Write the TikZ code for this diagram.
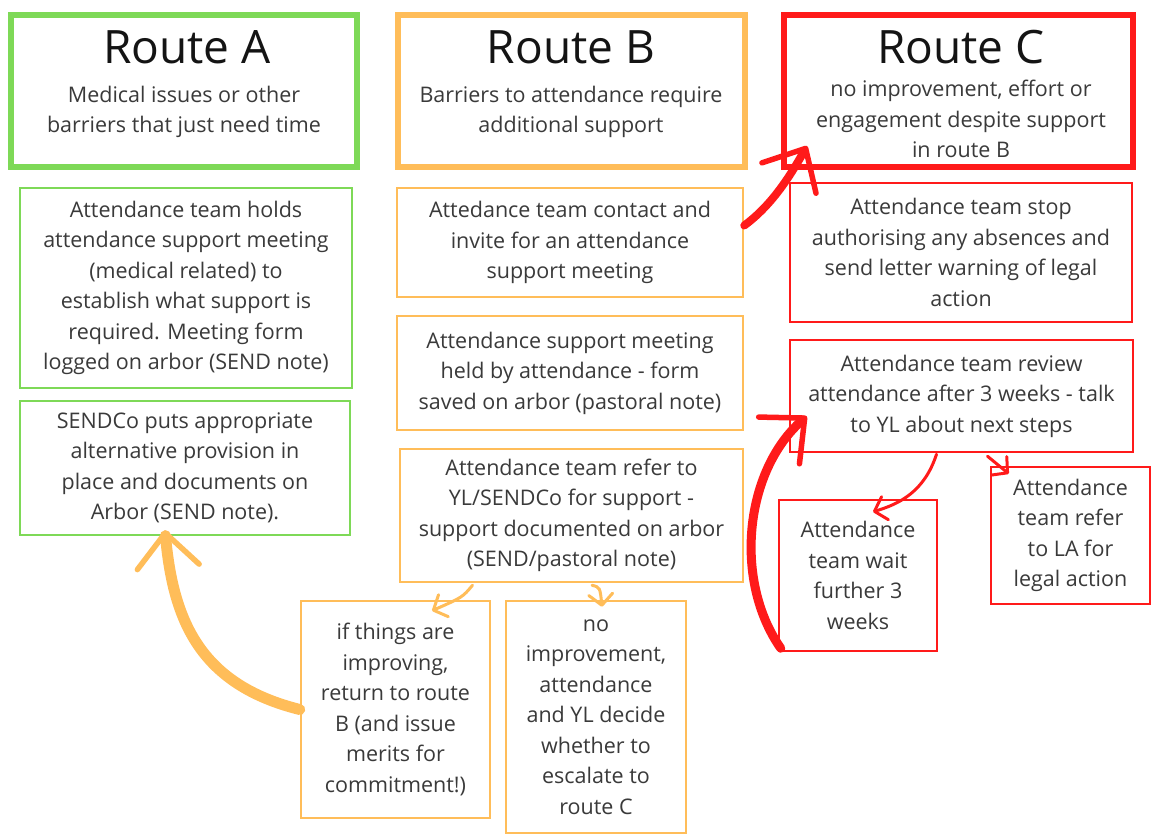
\documentclass[tikz,border=0pt]{standalone}
\usepackage{fontspec}
\setmainfont{Open Sans}
\usetikzlibrary{arrows.meta,calc}
\definecolor{gA}{HTML}{7ED957}
\definecolor{oB}{HTML}{FFBD59}
\definecolor{rC}{HTML}{FF1A1A}
\definecolor{txt}{HTML}{3A3A3A}
\begin{document}
\begin{tikzpicture}[x=1pt,y=-1pt,
  box/.style={draw, line width=2.5pt, align=center, inner sep=0pt, text=txt,
    font=\fontsize{21.5pt}{30.5pt}\selectfont},
  hbox/.style={draw, line width=6pt, inner sep=0pt},
  title/.style={font=\fontsize{46pt}{56pt}\selectfont, text=black!92, inner sep=0pt},
  sub/.style={align=center, text=txt, inner sep=0pt, font=\fontsize{21.5pt}{30.5pt}\selectfont},
  thick arrow/.style={line width=#1, line cap=round,
    -{Straight Barb[length=34pt,width=62pt,line width=5.5pt,round]}},
  thin arrow/.style={line width=3pt, line cap=round,
    -{Straight Barb[length=11pt,width=24pt,line width=3pt,round]}}
]
\useasboundingbox (0,0) rectangle (1151,835);
\fill[white] (0,0) rectangle (1151,835);

% headers
\node[hbox, draw=gA, minimum width=346pt, minimum height=152pt] (ra) at (184,91) {};
\node[hbox, draw=oB, minimum width=347pt, minimum height=152pt] (rb) at (571.5,91) {};
\node[hbox, draw=rC, minimum width=349pt, minimum height=152pt] (rc) at (958.5,91) {};
\node[title] (ta) at (187,47) {Route A};
\node[title] (tb) at (571,47) {Route B};
\node[title] (tc) at (961,47) {Route C};
\node[sub] (sa) at (184,112) {Medical issues or other\\barriers that just need time};
\node[sub] (sb) at (571,112) {Barriers to attendance require\\additional support};
\node[sub] (sc) at (961,119) {no improvement, effort or\\engagement despite support\\in route B};

% route A
\node[box, draw=gA, minimum width=332pt, minimum height=200pt] (a1) at (186,288)
  {Attendance team holds\\attendance support meeting\\(medical related) to\\establish what support is\\required. Meeting form\\logged on arbor (SEND note)};
\node[box, draw=gA, minimum width=330pt, minimum height=134pt] (a2) at (185,468)
  {SENDCo puts appropriate\\alternative provision in\\place and documents on\\Arbor (SEND note).};

% route B
\node[box, draw=oB, minimum width=346pt, minimum height=109pt] (b1) at (570,242.5)
  {Attedance team contact and\\invite for an attendance\\support meeting};
\node[box, draw=oB, minimum width=346pt, minimum height=114pt] (b2) at (570,373)
  {Attendance support meeting\\held by attendance - form\\saved on arbor (pastoral note)};
\node[box, draw=oB, minimum width=343pt, minimum height=133pt] (b3) at (571.5,515.5)
  {Attendance team refer to\\YL/SENDCo for support -\\support documented on arbor\\(SEND/pastoral note)};
\node[box, draw=oB, minimum width=189pt, minimum height=217pt] (b4) at (395.5,709.5)
  {if things are\\improving,\\return to route\\B (and issue\\merits for\\commitment!)};
\node[box, draw=oB, minimum width=180pt, minimum height=232pt] (b5) at (596,717)
  {no\\improvement,\\attendance\\and YL decide\\whether to\\escalate to\\route C};

% route C
\node[box, draw=rC, minimum width=342pt, minimum height=139pt] (c1) at (961,252.5)
  {Attendance team stop\\authorising any absences and\\send letter warning of legal\\action};
\node[box, draw=rC, minimum width=343pt, minimum height=112pt] (c2) at (961.5,396)
  {Attendance team review\\attendance after 3 weeks - talk\\to YL about next steps};
\node[box, draw=rC, minimum width=158pt, minimum height=151pt] (c3) at (858,575.5)
  {Attendance\\team wait\\further 3\\weeks};
\node[box, draw=rC, minimum width=159pt, minimum height=137pt] (c4) at (1070.5,535.5)
  {Attendance\\team refer\\to LA for\\legal action};

% arrows
\draw[rC, thick arrow=8pt] ($(b1.east)+(0,-17)$) .. controls +(27,-20) and +(-18,32) .. ($(rc.south west)+(26,-24)$);
\draw[rC, thick arrow=9pt] ($(c3.south west)+(3,-4)$) .. controls +(-47,-67) and +(-63,55) .. ($(c2.south west)+(18,-37)$);
\draw[rC, thin arrow] ($(c2.south)+(-25,1)$) .. controls +(-12,37) and +(27,-8) .. ($(c3.north)+(15,13)$);
\draw[rC, thin arrow] ($(c2.south)+(26,3)$) -- ($(c4.north west)+(19,8)$);
\draw[oB, thick arrow=11pt] (b4.west) .. controls +(-100,-25) and +(8,90) .. ($(a2.south)+(-20,-6)$);
\draw[oB, thin arrow] ($(b3.south)+(-99,2)$) .. controls +(-10,12) .. ($(b4.north)+(36.5,11)$);
\draw[oB, thin arrow] ($(b3.south)+(20.5,2)$) .. controls +(8,2) .. ($(b5.north)+(6,7)$);
\end{tikzpicture}
\end{document}
